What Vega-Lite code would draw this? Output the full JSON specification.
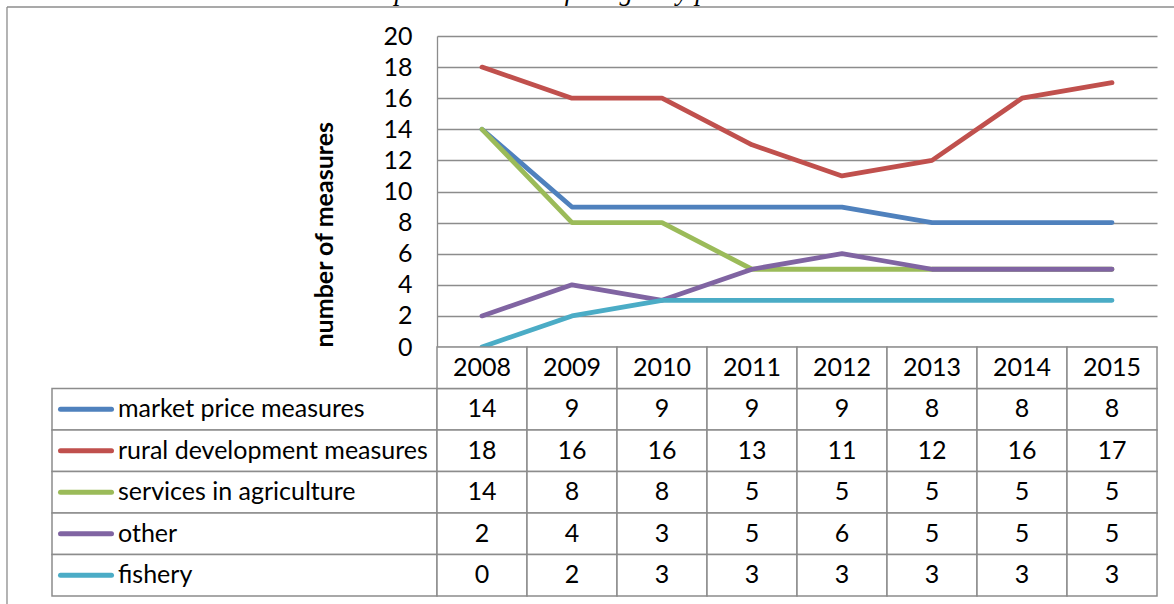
{
  "$schema": "https://vega.github.io/schema/vega-lite/v6.json",
  "padding": {"top": -22, "left": 6, "right": 0, "bottom": 0},
  "background": "white",
  "title": {
    "text": "Graph 1: Number of budgetary provisions in 2008-2015",
    "font": "Liberation Serif",
    "fontStyle": "italic",
    "fontWeight": "normal",
    "fontSize": 27,
    "color": "black",
    "anchor": "start",
    "frame": "group",
    "dx": 299,
    "baseline": "alphabetic",
    "offset": -21
  },
  "config": {"view": {"stroke": null}, "font": "Lato"},
  "datasets": {
    "one": [{}],
    "rows": [
      {"series": "market price measures", "year": "2008", "value": 14},
      {"series": "market price measures", "year": "2009", "value": 9},
      {"series": "market price measures", "year": "2010", "value": 9},
      {"series": "market price measures", "year": "2011", "value": 9},
      {"series": "market price measures", "year": "2012", "value": 9},
      {"series": "market price measures", "year": "2013", "value": 8},
      {"series": "market price measures", "year": "2014", "value": 8},
      {"series": "market price measures", "year": "2015", "value": 8},
      {"series": "rural development measures", "year": "2008", "value": 18},
      {"series": "rural development measures", "year": "2009", "value": 16},
      {"series": "rural development measures", "year": "2010", "value": 16},
      {"series": "rural development measures", "year": "2011", "value": 13},
      {"series": "rural development measures", "year": "2012", "value": 11},
      {"series": "rural development measures", "year": "2013", "value": 12},
      {"series": "rural development measures", "year": "2014", "value": 16},
      {"series": "rural development measures", "year": "2015", "value": 17},
      {"series": "services in agriculture", "year": "2008", "value": 14},
      {"series": "services in agriculture", "year": "2009", "value": 8},
      {"series": "services in agriculture", "year": "2010", "value": 8},
      {"series": "services in agriculture", "year": "2011", "value": 5},
      {"series": "services in agriculture", "year": "2012", "value": 5},
      {"series": "services in agriculture", "year": "2013", "value": 5},
      {"series": "services in agriculture", "year": "2014", "value": 5},
      {"series": "services in agriculture", "year": "2015", "value": 5},
      {"series": "other", "year": "2008", "value": 2},
      {"series": "other", "year": "2009", "value": 4},
      {"series": "other", "year": "2010", "value": 3},
      {"series": "other", "year": "2011", "value": 5},
      {"series": "other", "year": "2012", "value": 6},
      {"series": "other", "year": "2013", "value": 5},
      {"series": "other", "year": "2014", "value": 5},
      {"series": "other", "year": "2015", "value": 5},
      {"series": "fishery", "year": "2008", "value": 0},
      {"series": "fishery", "year": "2009", "value": 2},
      {"series": "fishery", "year": "2010", "value": 3},
      {"series": "fishery", "year": "2011", "value": 3},
      {"series": "fishery", "year": "2012", "value": 3},
      {"series": "fishery", "year": "2013", "value": 3},
      {"series": "fishery", "year": "2014", "value": 3},
      {"series": "fishery", "year": "2015", "value": 3}
    ]
  },
  "columns": 2,
  "spacing": 0,
  "bounds": "flush",
  "concat": [
    {
      "width": 385, "height": 29,
      "data": {"name": "one"},
      "layer": [
        {
          "mark": {"type": "rule", "color": "#8c8c8c", "strokeWidth": 1.3},
          "encoding": {
            "x": {"datum": -0.1169, "type": "quantitative", "scale": {"domain": [0, 1], "nice": false, "zero": false}, "axis": null},
            "x2": {"datum": 1},
            "y": {"datum": 1, "type": "quantitative", "scale": {"domain": [0, 1], "nice": false}, "axis": null}
          }
        },
        {
          "mark": {"type": "rule", "color": "#8c8c8c", "strokeWidth": 1.3},
          "encoding": {
            "x": {"datum": -0.1169, "type": "quantitative"}
          }
        }
      ]
    },
    {
      "width": 738, "height": 29,
      "data": {"name": "one"},
      "mark": {"type": "rule", "color": "#8c8c8c", "strokeWidth": 1.3},
      "encoding": {
        "y": {"datum": 1, "type": "quantitative", "scale": {"domain": [0, 1], "nice": false}, "axis": null}
      }
    },
    {
      "width": 385, "height": 311,
      "data": {"name": "one"},
      "mark": {"type": "rule", "color": "#8c8c8c", "strokeWidth": 1.3},
      "encoding": {
        "x": {"datum": -0.1169, "type": "quantitative", "scale": {"domain": [0, 1], "nice": false, "zero": false}, "axis": null}
      }
    },
    {
      "width": 720, "height": 311,
      "data": {"name": "rows"},
      "mark": {"type": "line", "strokeWidth": 4.8, "strokeCap": "round", "strokeJoin": "round"},
      "encoding": {
        "x": {"field": "year", "type": "ordinal", "axis": null, "scale": {"padding": 0.5}},
        "y": {
          "field": "value", "type": "quantitative",
          "scale": {"domain": [0, 20], "nice": false},
          "axis": {
            "values": [0, 2, 4, 6, 8, 10, 12, 14, 16, 18, 20],
            "grid": true, "gridColor": "#8c8c8c", "gridWidth": 1.3, "gridOpacity": 1,
            "domain": true, "domainColor": "#8c8c8c", "domainWidth": 1.3,
            "ticks": false, "labelPadding": 25,
            "labelFont": "Lato", "labelFontSize": 25, "labelColor": "black",
            "title": "number of measures", "titleFont": "Lato", "titleFontSize": 25,
            "titleFontWeight": "bold", "titleColor": "black", "titleAnchor": "start", "titlePadding": 45
          }
        },
        "color": {
          "field": "series", "type": "nominal",
          "scale": {
            "domain": ["market price measures", "rural development measures", "services in agriculture", "other", "fishery"],
            "range": ["#4F81BD", "#C0504D", "#9BBB59", "#8064A2", "#4BACC6"]
          },
          "legend": null
        }
      }
    },
    {
      "width": 385, "height": 257,
      "layer": [
        {
          "data": {"name": "one"},
          "mark": {"type": "rule", "color": "#8c8c8c", "strokeWidth": 1.3},
          "encoding": {
            "x": {"datum": -0.1169, "type": "quantitative", "scale": {"domain": [0, 1], "nice": false, "zero": false}, "axis": null}
          }
        },
        {
          "data": {"name": "rows"},
          "transform": [{"filter": "datum.year === '2008'"}],
          "mark": {"type": "rect", "fill": "white", "stroke": "#8c8c8c", "strokeWidth": 1.5},
          "encoding": {
            "x": {"datum": 0, "type": "quantitative"},
            "x2": {"datum": 1},
            "y": {
              "field": "series", "type": "nominal", "axis": null,
              "scale": {
                "domain": ["header", "market price measures", "rural development measures", "services in agriculture", "other", "fishery"],
                "paddingInner": 0, "paddingOuter": 0.0964, "align": 0
              }
            }
          }
        },
        {
          "data": {"name": "rows"},
          "transform": [{"filter": "datum.year === '2008'"}],
          "mark": {"type": "point", "shape": "stroke", "size": 2601, "strokeWidth": 5, "strokeCap": "round", "opacity": 1, "filled": false, "xOffset": 34},
          "encoding": {
            "x": {"datum": 0, "type": "quantitative"},
            "y": {"field": "series", "type": "nominal"},
            "color": {
              "field": "series", "type": "nominal",
              "scale": {
                "domain": ["market price measures", "rural development measures", "services in agriculture", "other", "fishery"],
                "range": ["#4F81BD", "#C0504D", "#9BBB59", "#8064A2", "#4BACC6"]
              },
              "legend": null
            }
          }
        },
        {
          "data": {"name": "rows"},
          "transform": [{"filter": "datum.year === '2008'"}],
          "mark": {"type": "text", "align": "left", "baseline": "middle", "dx": 66, "font": "Lato", "fontSize": 25, "color": "black"},
          "encoding": {
            "x": {"datum": 0, "type": "quantitative"},
            "y": {"field": "series", "type": "nominal"},
            "text": {"field": "series", "type": "nominal"}
          }
        }
      ]
    },
    {
      "width": 720, "height": 249,
      "data": {"name": "rows"},
      "layer": [
        {
          "mark": {"type": "rect", "fill": "white", "stroke": "#8c8c8c", "strokeWidth": 1.5},
          "encoding": {
            "x": {"field": "year", "type": "ordinal", "axis": null, "scale": {"paddingInner": 0, "paddingOuter": 0}},
            "y": {
              "field": "series", "type": "nominal", "axis": null,
              "scale": {
                "domain": ["header", "market price measures", "rural development measures", "services in agriculture", "other", "fishery"],
                "paddingInner": 0, "paddingOuter": 0
              }
            }
          }
        },
        {
          "transform": [{"filter": "datum.series === 'fishery'"}],
          "mark": {"type": "rect", "fill": "white", "stroke": "#8c8c8c", "strokeWidth": 1.5},
          "encoding": {
            "x": {"field": "year", "type": "ordinal"},
            "y": {"datum": "header", "type": "nominal"}
          }
        },
        {
          "mark": {"type": "text", "align": "center", "baseline": "middle", "font": "Lato", "fontSize": 25, "color": "black"},
          "encoding": {
            "x": {"field": "year", "type": "ordinal"},
            "y": {"field": "series", "type": "nominal"},
            "text": {"field": "value", "type": "quantitative"}
          }
        },
        {
          "transform": [{"filter": "datum.series === 'fishery'"}],
          "mark": {"type": "text", "align": "center", "baseline": "middle", "font": "Lato", "fontSize": 25, "color": "black"},
          "encoding": {
            "x": {"field": "year", "type": "ordinal"},
            "y": {"datum": "header", "type": "nominal"},
            "text": {"field": "year", "type": "nominal"}
          }
        }
      ]
    }
  ]
}
